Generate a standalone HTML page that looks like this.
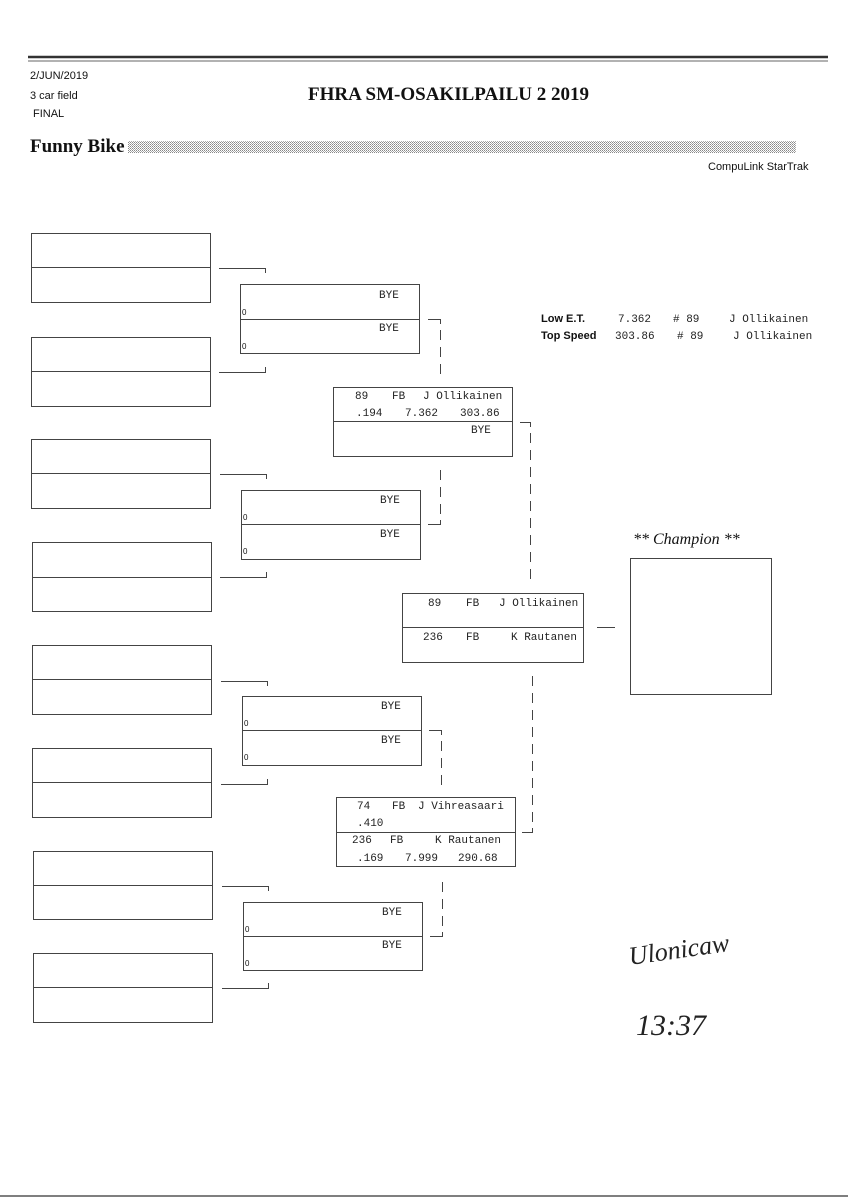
<!DOCTYPE html>
<html><head><meta charset="utf-8"><style>
html,body{margin:0;padding:0;background:#fff;}
svg{display:block}
.m{font-family:"Liberation Mono","DejaVu Sans Mono",monospace;font-size:11px;fill:#222}
.s{font-family:"Liberation Sans",sans-serif;fill:#111}
</style></head><body>
<svg width="848" height="1200" viewBox="0 0 848 1200" xmlns="http://www.w3.org/2000/svg">
<defs>
<pattern id="dots" width="2" height="2" patternUnits="userSpaceOnUse"><rect width="1" height="1" fill="#888"/><rect x="1" y="1" width="1" height="1" fill="#aaa"/></pattern>
</defs>
<g stroke="#333" fill="none">
<line x1="28" y1="57" x2="828" y2="57" stroke-width="2.5"/>
<line x1="28" y1="61" x2="828" y2="61" stroke-width="0.8"/>
<line x1="0" y1="1196" x2="848" y2="1196" stroke-width="1.2"/>
</g>
<text class="s" x="30" y="79" font-size="11">2/JUN/2019</text>
<text class="s" x="30" y="99" font-size="11">3 car field</text>
<text class="s" x="33" y="117" font-size="11">FINAL</text>
<text x="308" y="100" font-family="Liberation Serif,serif" font-weight="bold" font-size="19" fill="#111">FHRA SM-OSAKILPAILU 2 2019</text>
<text x="30" y="152" font-family="Liberation Serif,serif" font-weight="bold" font-size="19" fill="#111">Funny Bike</text>
<rect x="128" y="141" width="668" height="12" fill="url(#dots)"/>
<text class="s" x="708" y="170" font-size="11">CompuLink StarTrak</text>

<g stroke="#444" stroke-width="1" fill="none">
<!-- round 1 -->
<rect x="31.5" y="233.5" width="179" height="69"/><line x1="31" y1="267.5" x2="211" y2="267.5"/>
<rect x="31.5" y="337.5" width="179" height="69"/><line x1="31" y1="371.5" x2="211" y2="371.5"/>
<rect x="31.5" y="439.5" width="179" height="69"/><line x1="31" y1="473.5" x2="211" y2="473.5"/>
<rect x="32.5" y="542.5" width="179" height="69"/><line x1="32" y1="577.5" x2="212" y2="577.5"/>
<rect x="32.5" y="645.5" width="179" height="69"/><line x1="32" y1="679.5" x2="212" y2="679.5"/>
<rect x="32.5" y="748.5" width="179" height="69"/><line x1="32" y1="782.5" x2="212" y2="782.5"/>
<rect x="33.5" y="851.5" width="179" height="68"/><line x1="33" y1="885.5" x2="213" y2="885.5"/>
<rect x="33.5" y="953.5" width="179" height="69"/><line x1="33" y1="987.5" x2="213" y2="987.5"/>
<!-- r1 connectors -->
<path d="M219 268.5H265.5V273"/><path d="M219 372.5H265.5V367"/>
<path d="M220 474.5H266.5V479"/><path d="M220 577.5H266.5V572"/>
<path d="M221 681.5H267.5V686"/><path d="M221 784.5H267.5V779"/>
<path d="M222 886.5H268.5V891"/><path d="M222 988.5H268.5V983"/>
<!-- round 2 -->
<rect x="240.5" y="284.5" width="179" height="69"/><line x1="240" y1="319.5" x2="420" y2="319.5"/>
<rect x="241.5" y="490.5" width="179" height="69"/><line x1="241" y1="524.5" x2="421" y2="524.5"/>
<rect x="242.5" y="696.5" width="179" height="69"/><line x1="242" y1="730.5" x2="422" y2="730.5"/>
<rect x="243.5" y="902.5" width="179" height="68"/><line x1="243" y1="936.5" x2="423" y2="936.5"/>
<!-- round 3 -->
<rect x="333.5" y="387.5" width="179" height="69"/><line x1="333" y1="421.5" x2="513" y2="421.5"/>
<rect x="336.5" y="797.5" width="179" height="69"/><line x1="336" y1="832.5" x2="516" y2="832.5"/>
<!-- final -->
<rect x="402.5" y="593.5" width="181" height="69"/><line x1="402" y1="627.5" x2="584" y2="627.5"/>
<!-- champion -->
<rect x="630.5" y="558.5" width="141" height="136"/>
<line x1="597" y1="627.5" x2="615" y2="627.5"/>
</g>
<g stroke="#444" stroke-width="1" fill="none">
<path d="M428 319.5H440.5V324"/><line x1="440.5" y1="330" x2="440.5" y2="378" stroke-dasharray="10,7"/>
<path d="M428 524.5H440.5V520"/><line x1="440.5" y1="514" x2="440.5" y2="466" stroke-dasharray="10,7"/>
<path d="M429 730.5H441.5V735"/><line x1="441.5" y1="741" x2="441.5" y2="788" stroke-dasharray="10,7"/>
<path d="M430 936.5H442.5V932"/><line x1="442.5" y1="926" x2="442.5" y2="876" stroke-dasharray="10,7"/>
<path d="M520 422.5H530.5V427"/><line x1="530.5" y1="433" x2="530.5" y2="584" stroke-dasharray="10,7"/>
<path d="M522 832.5H532.5V828"/><line x1="532.5" y1="822" x2="532.5" y2="672" stroke-dasharray="10,7"/>
</g>

<!-- r2 texts -->
<g class="m">
<text x="379" y="298">BYE</text><text x="379" y="331">BYE</text>
<text x="380" y="503">BYE</text><text x="380" y="537">BYE</text>
<text x="381" y="709">BYE</text><text x="381" y="743">BYE</text>
<text x="382" y="915">BYE</text><text x="382" y="948">BYE</text>
</g>
<g class="s" font-size="8">
<text x="242" y="315">0</text><text x="242" y="349">0</text>
<text x="243" y="520">0</text><text x="243" y="554">0</text>
<text x="244" y="726">0</text><text x="244" y="760">0</text>
<text x="245" y="932">0</text><text x="245" y="966">0</text>
</g>
<g class="m">
<text x="355" y="399">89</text><text x="392" y="399">FB</text><text x="423" y="399">J Ollikainen</text>
<text x="356" y="416">.194</text><text x="405" y="416">7.362</text><text x="460" y="416">303.86</text>
<text x="471" y="433">BYE</text>

<text x="428" y="606">89</text><text x="466" y="606">FB</text><text x="499" y="606">J Ollikainen</text>
<text x="423" y="640">236</text><text x="466" y="640">FB</text><text x="511" y="640">K Rautanen</text>

<text x="357" y="809">74</text><text x="392" y="809">FB</text><text x="418" y="809">J Vihreasaari</text>
<text x="357" y="826">.410</text>
<text x="352" y="843">236</text><text x="390" y="843">FB</text><text x="435" y="843">K Rautanen</text>
<text x="357" y="861">.169</text><text x="405" y="861">7.999</text><text x="458" y="861">290.68</text>
</g>
<g font-size="11">
<text class="s" x="541" y="322" font-weight="bold">Low  E.T.</text>
<text class="s" x="541" y="339" font-weight="bold">Top Speed</text>
<text class="m" x="618" y="322">7.362</text><text class="m" x="673" y="322"># 89</text><text class="m" x="729" y="322">J Ollikainen</text>
<text class="m" x="615" y="339">303.86</text><text class="m" x="677" y="339"># 89</text><text class="m" x="733" y="339">J Ollikainen</text>
</g>
<text x="633" y="544" font-family="Liberation Serif,serif" font-style="italic" font-size="16" fill="#111">** Champion **</text>
<text x="630" y="965" font-family="Liberation Serif,serif" font-style="italic" font-size="26" fill="#222" transform="rotate(-8 630 965)">Ulonicaw</text>
<text x="636" y="1035" font-family="Liberation Serif,serif" font-style="italic" font-size="30" fill="#222">13:37</text>
</svg>
</body></html>
